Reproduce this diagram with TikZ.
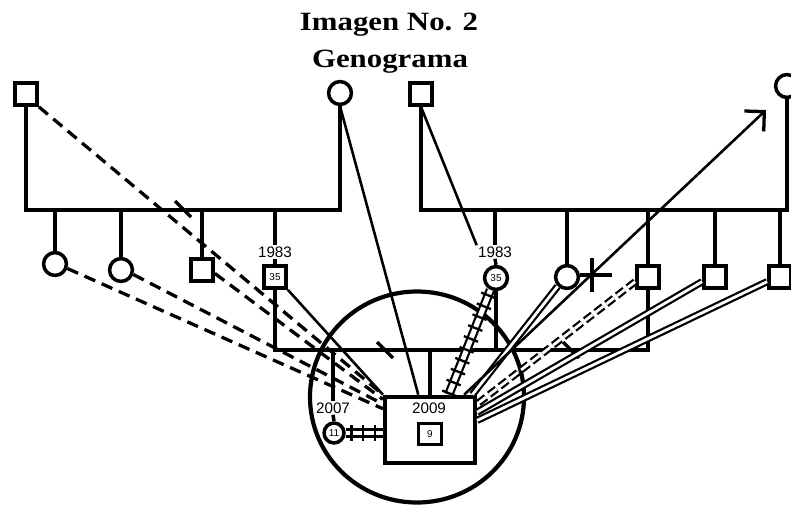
\documentclass[tikz,border=0pt]{standalone}
\usepackage{fontspec}
\setmainfont{Liberation Serif}
\setsansfont{Liberation Sans}
\usetikzlibrary{arrows.meta,decorations.markings}

\begin{document}
\begin{tikzpicture}[x=0.03cm, y=-0.03cm,
    varon/.style={draw, line width=3pt, minimum size=19pt, inner sep=0pt,
                  font=\sffamily\fontsize{8.5}{8.5}\selectfont},
    mujer/.style={varon, circle, minimum size=19.5pt},
    linea/.style={line width=3pt},
    lazo/.style={line width=2.2pt},
    distante/.style={line width=2.8pt, dash pattern=on 10pt off 6pt},
    unido/.style={line width=1.9pt, double, double distance=2.4pt},
    quiebre/.style={unido, dash pattern=on 8pt off 3.5pt},
    conflicto/.style={preaction={draw, line width=1.9pt, double, double distance=4.2pt},
      postaction={decorate, decoration={markings,
        mark=between positions 5pt and 1 step 10pt with
          {\draw[line width=2pt] (0,-6.5pt) -- (0,6.5pt);}}}},
    anio/.style={font=\sffamily\fontsize{13}{13}\selectfont, inner sep=1pt},
    titulo/.style={font=\bfseries\fontsize{22.5}{27}\selectfont, anchor=base}]
  \useasboundingbox (0,0) rectangle (791,507);
  % title
  \node[titulo] (tit1) at (389,31) {\scalebox{1.17}[1]{Imagen No. 2}};
  \node[titulo] (tit2) at (390,67) {\scalebox{1.17}[1]{Genograma}};
  \coordinate (gen1) at (0,210);
  \coordinate (gen2) at (0,350);
  % paternal family
  \node[varon] (abueloA) at (26,94) {};
  \node[mujer] (abuelaA) at (340,93) {};
  \node[mujer] (hijaA1) at (55,264) {};
  \node[mujer] (hijaA2) at (121,270) {};
  \node[varon] (hijoA3) at (202,270) {};
  \node[anio] (anioP) at (275,252) {1983};
  \node[varon] (padre) at (275,277) {35};
  \draw[linea] (abueloA.south) -- (abueloA.south |- gen1) -- (abuelaA.south |- gen1) -- (abuelaA.south);
  \foreach \n in {hijaA1, hijaA2, hijoA3}
    \draw[linea] (\n.north) -- (\n.north |- gen1);
  \draw[linea] (anioP.north) -- (anioP.north |- gen1);
  \draw[linea] (anioP.south) -- (padre.north);
  % maternal family
  \node[varon] (abueloB) at (421,94) {};
  \node[mujer] (abuelaB) at (787,86) {};
  \node[anio] (anioM) at (495,252) {1983};
  \node[mujer] (madre) at (496,278) {35};
  \node[mujer] (tiaB1) at (567,277) {};
  \node[varon] (tioB2) at (648,277) {};
  \node[varon] (tioB3) at (715,277) {};
  \node[varon] (tioB4) at (780,277) {};
  \draw[linea] (abueloB.south) -- (abueloB.south |- gen1) -- (abuelaB.south |- gen1) -- (abuelaB.south);
  \foreach \n in {tiaB1, tioB2, tioB3, tioB4}
    \draw[linea] (\n.north) -- (\n.north |- gen1);
  \draw[linea] (anioM.north) -- (anioM.north |- gen1);
  \draw[linea] (anioM.south) -- (madre.north);
  % parents and children
  \node[anio] (anioH) at (333,408) {2007};
  \node[mujer, minimum size=17pt] (hermana) at (334,433) {11};
  \node[draw, line width=3.3pt, minimum width=77pt, minimum height=57pt] (indice) at (430,430) {};
  \node[anio] (anioI) at (429,408) {2009};
  \node[varon, minimum width=20pt, minimum height=18pt] (nino) at (430,434) {9};
  \draw[linea] (padre.south) -- (padre.south |- gen2) -- (tioB2.south |- gen2) -- (tioB2.south);
  \draw[linea] (madre.south) -- (madre.south |- gen2);
  \draw[linea] (anioH.north) -- (anioH.north |- gen2);
  \draw[linea] (anioH.south) -- (hermana.north);
  \draw[linea] (indice.north) -- (indice.north |- gen2);
  % separation marks
  \foreach \sx/\sy in {183/209, 385/350, 571/350}
    \draw[linea] (\sx-8,\sy-8) -- (\sx+8,\sy+8);
  % household
  \draw[line width=3.6pt] (417,397) circle [x radius=107, y radius=105.5];
  % relations of the child
  \coordinate (flecha) at (766,110);
  \draw[distante] (abueloA.south east) -- (indice.north west);
  \draw[distante] (hijoA3.-15) -- ([yshift=-4pt]indice.north west);
  \draw[distante] (hijaA2.-20) -- ([yshift=-8pt]indice.north west);
  \draw[distante] (hijaA1.-20) -- ([yshift=-12pt]indice.north west);
  \draw[lazo] (abuelaA.south) -- ([xshift=-10pt]indice.north);
  \draw[lazo] (padre.south east) -- (indice.north west);
  \draw[lazo] (abueloB.south) -- (anioM.north west);
  \path[conflicto] (madre.245) -- ([xshift=16pt]indice.north);
  \path[conflicto] (hermana.east) -- (indice.west |- hermana);
  \draw[unido] (tiaB1.225) -- ([xshift=-4pt]indice.north east);
  \draw[lazo, -{Straight Barb[length=12pt, width=24pt, line width=2.8pt]}]
    ([xshift=-11pt]indice.north east) -- (flecha);
  \draw[quiebre] (tioB2.200) -- ([yshift=-8pt]indice.north east);
  \draw[unido] (tioB3.200) -- ([yshift=-15pt]indice.north east);
  \draw[unido] (tioB4.200) -- ([yshift=-22pt]indice.north east);
  % cut-off mark
  \draw[linea] (592,258) -- (592,292) (580,275) -- (612,275);
\end{tikzpicture}
\end{document}
